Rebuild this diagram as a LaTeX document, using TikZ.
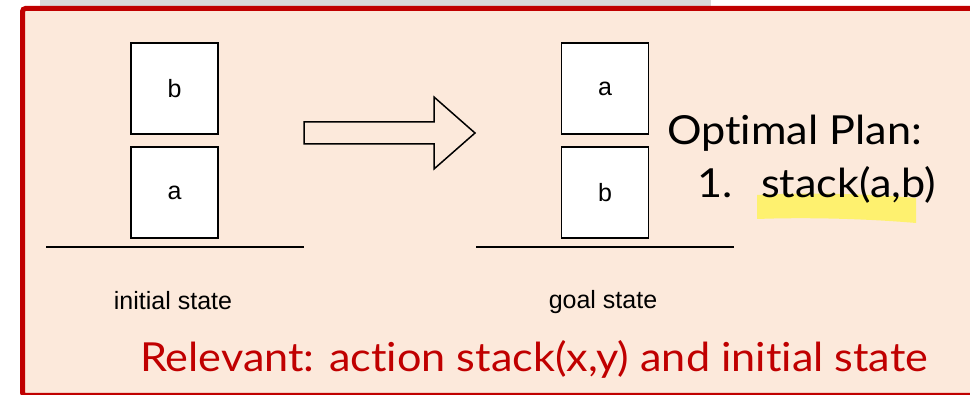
\documentclass[tikz,border=0pt]{standalone}
\usepackage{fontspec}
\setmainfont{Liberation Sans}
\newfontfamily\slidefont{Lato}[FakeStretch=1.08,Ligatures=NoCommon]
\usepackage{tikz}
\usetikzlibrary{positioning}

\definecolor{slidepeach}{RGB}{252,233,219}
\definecolor{slidered}{RGB}{192,0,0}
\definecolor{slidegrey}{RGB}{217,217,217}
\definecolor{marker}{RGB}{255,242,100}

\tikzset{
  block/.style={draw,fill=white,line width=1.5pt,minimum width=87pt,
    minimum height=91pt,inner sep=0pt,font=\fontsize{25}{30}\selectfont},
  ground/.style={line width=1.5pt},
  caption/.style={anchor=base,inner sep=0pt,font=\fontsize{25}{30}\selectfont},
  plan/.style={anchor=base west,inner sep=0pt,font=\slidefont\fontsize{40}{48}\selectfont},
}

\begin{document}
\begin{tikzpicture}[x=1pt,y=-1pt,node distance=104pt,on grid]
  \useasboundingbox (0,0) rectangle (970,395);
  \clip (0,0) rectangle (970,395);
  % slide frame
  \fill[slidegrey] (40,-5) rectangle (711,6);
  \draw[line width=5pt,draw=slidered,fill=slidepeach,rounded corners=3pt]
    (22.5,8.5) rectangle (1000,395.5);

  % initial state
  \node[block] (ib) at (174.5,88.5) {b};
  \node[block,below=of ib] (ia) {a};
  \draw[ground] (46,247) -- (304,247);
  \node[caption] (init) at (173,310) {initial state};

  % goal state
  \node[block] (ga) at (605,88.5) {a};
  \node[block,below=of ga] (gb) {b};
  \draw[ground] (476,247) -- (734,247);
  \node[caption] (goal) at (603,309) {goal state};

  % transition arrow
  \draw[line width=1.5pt,line join=miter]
    (304,122) -- (434,122) -- (434,97) -- (475,133)
    -- (434,169) -- (434,144) -- (304,144) -- cycle;

  % plan with marker stroke
  \fill[marker,opacity=0.9] (757,195) .. controls (810,192) and (870,194) .. (916,198)
    -- (916,223) .. controls (870,219) and (810,217) .. (757,219) -- cycle;
  \node[plan] (title) at (667,145) {Optimal Plan:};
  \node[plan] (num) at (697,198) {1.};
  \node[plan] (step1) at (761,198) {stack(a,b)};

  \node[plan,text=slidered] (note) at (140,372)
    {Relevant: action stack(x,y) and initial state};
\end{tikzpicture}
\end{document}
